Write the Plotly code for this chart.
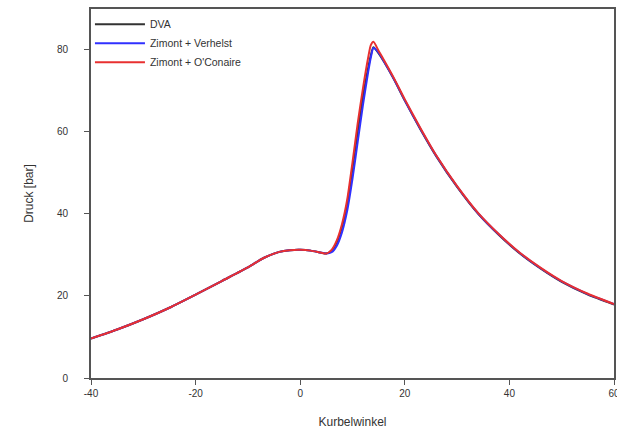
import plotly.graph_objects as go

# Kurbelwinkel (deg) and pressure (bar)
x_dva = [-40, -35, -30, -25, -20, -15, -10, -7, -4, -2, 0, 2, 4, 5, 6, 7, 8, 9, 10, 11, 12, 13, 13.5, 14, 15, 16, 18, 20, 23, 26, 30, 34, 38, 42, 46, 50, 55, 60]
y_dva = [9.6, 11.8, 14.3, 17.1, 20.3, 23.6, 26.9, 29.2, 30.7, 31.1, 31.2, 31.0, 30.5, 30.3, 31.0, 33.0, 36.8, 42.5, 51.0, 60.0, 68.5, 75.5, 78.5, 80.5, 79.0, 77.0, 72.5, 67.5, 60.5, 54.0, 46.5, 40.0, 34.8, 30.3, 26.6, 23.4, 20.3, 17.9]
x_zv = [-40, -35, -30, -25, -20, -15, -10, -7, -4, -2, 0, 2, 4, 5, 6, 7, 8, 9, 10, 11, 12, 13, 13.5, 14, 15, 16, 18, 20, 23, 26, 30, 34, 38, 42, 46, 50, 55, 60]
y_zv = [9.6, 11.8, 14.3, 17.1, 20.3, 23.6, 26.9, 29.2, 30.7, 31.1, 31.2, 31.0, 30.5, 30.3, 30.6, 32.2, 35.5, 40.8, 48.5, 57.5, 66.5, 74.5, 78.0, 80.3, 79.2, 77.1, 72.6, 67.6, 60.6, 54.1, 46.6, 40.1, 34.9, 30.4, 26.7, 23.5, 20.4, 18.0]
x_zo = [-40, -35, -30, -25, -20, -15, -10, -7, -4, -2, 0, 2, 4, 5, 6, 7, 8, 9, 10, 11, 12, 13, 13.5, 14, 15, 16, 18, 20, 23, 26, 30, 34, 38, 42, 46, 50, 55, 60]
y_zo = [9.6, 11.8, 14.3, 17.1, 20.3, 23.6, 26.9, 29.2, 30.7, 31.1, 31.2, 31.0, 30.5, 30.3, 31.2, 33.5, 37.5, 43.5, 52.5, 62.0, 70.5, 78.0, 81.0, 81.8, 79.6, 77.4, 72.8, 67.8, 60.8, 54.2, 46.7, 40.2, 35.0, 30.5, 26.8, 23.6, 20.5, 18.0]

x_ticks = [-40, -20, 0, 20, 40, 60]
x_tick_labels = ["-40", "-20", "0", "20", "40", "60"]
y_ticks = [0, 20, 40, 60, 80]
y_tick_labels = ["0", "20", "40", "60", "80"]

fig = go.Figure()
fig.add_trace(go.Scatter(x=x_dva, y=y_dva, mode="lines", name="DVA",
                         line=dict(color="#333333", width=2, shape="spline", smoothing=0.6)))
fig.add_trace(go.Scatter(x=x_zv, y=y_zv, mode="lines", name="Zimont + Verhelst",
                         line=dict(color="#3030ff", width=2, shape="spline", smoothing=0.6)))
fig.add_trace(go.Scatter(x=x_zo, y=y_zo, mode="lines", name="Zimont + O'Conaire",
                         line=dict(color="#e83030", width=2, shape="spline", smoothing=0.6)))

axis_common = dict(showgrid=False, zeroline=False, showline=True, linecolor="#555555",
                   linewidth=2, mirror=True, ticks="outside", ticklen=5, tickwidth=1,
                   tickcolor="#555555", automargin=False, ticklabeloverflow="allow",
                   tickfont=dict(family="Arial, Liberation Sans", size=10, color="#333333"))

fig.update_layout(
    width=617, height=429,
    margin=dict(l=91, r=3, t=9, b=51),
    plot_bgcolor="white", paper_bgcolor="white",
    font=dict(family="Arial, Liberation Sans", size=11, color="#333333"),
    xaxis=dict(range=[-40, 60], tickvals=x_ticks, ticktext=x_tick_labels, ticklabelstandoff=0,
               title=dict(text="Kurbelwinkel", font=dict(size=12), standoff=20), **axis_common),
    yaxis=dict(range=[0, 89.8], tickvals=y_ticks, ticktext=y_tick_labels, ticklabelstandoff=14,
               title=dict(text="Druck [bar]", font=dict(size=12), standoff=21), **axis_common),
    legend=dict(x=-0.002, y=0.998, xanchor="left", yanchor="top", bgcolor="rgba(0,0,0,0)",
                font=dict(size=10.5, color="#333333"), itemwidth=50),
    showlegend=True,
)

# remove the default 8px page margin so the figure fills the window exactly
fig.write_html("out.html", config={"displayModeBar": False},
               post_script="document.body.style.margin='0px';document.body.style.overflow='hidden';")
